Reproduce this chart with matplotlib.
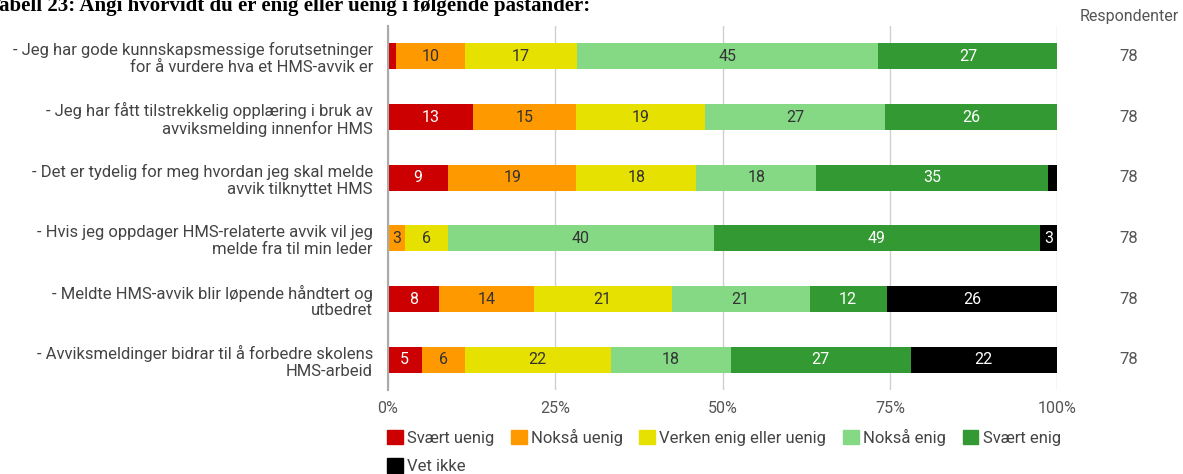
import numpy as np
import matplotlib.pyplot as plt
from matplotlib.patches import Patch

plt.rcParams['font.family'] = ['Roboto', 'DejaVu Sans']

questions = [
    '- Jeg har gode kunnskapsmessige forutsetninger\nfor å vurdere hva et HMS-avvik er',
    '- Jeg har fått tilstrekkelig opplæring i bruk av\navviksmelding innenfor HMS',
    '- Det er tydelig for meg hvordan jeg skal melde\navvik tilknyttet HMS',
    '- Hvis jeg oppdager HMS-relaterte avvik vil jeg\nmelde fra til min leder',
    '- Meldte HMS-avvik blir løpende håndtert og\nutbedret',
    '- Avviksmeldinger bidrar til å forbedre skolens\nHMS-arbeid',
]
categories = ['Svært uenig', 'Nokså uenig', 'Verken enig eller uenig',
              'Nokså enig', 'Svært enig', 'Vet ikke']
colors = ['#cc0000', '#ff9900', '#e6e100', '#85d985', '#339933', '#000000']
text_colors = ['white', '#333333', '#333333', '#333333', 'white', 'white']

# percent of respondents per answer (rows = questions)
svaert_uenig = [1.3, 12.8, 9.0, 0.0, 7.7, 5.1]
noksa_uenig = [10.3, 15.4, 19.2, 2.6, 14.1, 6.4]
verken = [16.7, 19.2, 17.9, 6.4, 20.6, 21.8]
noksa_enig = [44.9, 26.9, 17.9, 39.7, 20.6, 17.9]
svaert_enig = [26.9, 25.6, 34.6, 48.7, 11.5, 26.9]
vet_ikke = [0.0, 0.0, 1.3, 2.6, 25.5, 21.8]
respondenter = [78, 78, 78, 78, 78, 78]

series = [svaert_uenig, noksa_uenig, verken, noksa_enig, svaert_enig, vet_ikke]

fig = plt.figure(figsize=(11.83, 4.74), dpi=100)
ax = fig.add_axes([0.3276, 0.1772, 0.5663, 0.7677])

y = np.arange(len(questions))
left = np.zeros(len(questions))
for vals, col, tcol in zip(series, colors, text_colors):
    vals = np.array(vals)
    ax.barh(y, vals, left=left, height=0.43, color=col, zorder=3)
    for yi, (l, v) in enumerate(zip(left, vals)):
        if v >= 2:
            ax.text(l + v / 2, yi, f'{v:.0f}', ha='center', va='center',
                    color=tcol, fontsize=11.5, zorder=4)
    left += vals

ax.set_xlim(0, 100)
ax.set_ylim(5.5, -0.5)
ax.set_yticks(y)
ax.set_yticklabels(questions, fontsize=12, color='#444444', linespacing=1.15)
ax.set_xticks([0, 25, 50, 75, 100])
ax.set_xticklabels(['0%', '25%', '50%', '75%', '100%'], fontsize=11.5, color='#555555')
ax.tick_params(axis='y', length=0, pad=10.5)
ax.tick_params(axis='x', length=0, pad=8)
ax.grid(axis='x', color='#d0d0d0', linewidth=1, zorder=0)
for s in ['top', 'right', 'bottom']:
    ax.spines[s].set_visible(False)
ax.spines['left'].set_color('#aaaaaa')
ax.spines['left'].set_linewidth(1.5)
ax.spines['left'].set_zorder(5)

# respondent column
ax.text(1.107, 1.005, 'Respondenter', transform=ax.transAxes, ha='center',
        va='bottom', fontsize=11.5, color='#555555')
for yi, n in enumerate(respondenter):
    ax.annotate(str(n), xy=(1.107, yi), xycoords=('axes fraction', 'data'),
                ha='center', va='center', fontsize=12, color='#555555')

handles = [Patch(facecolor=c, edgecolor=c) for c in colors]
leg_kw = dict(loc='upper left', frameon=False, fontsize=12, handlelength=0.95,
              handleheight=0.95, handletextpad=0.25, columnspacing=1.0,
              borderaxespad=0, borderpad=0, labelcolor='#444444')
fig.legend(handles[:5], categories[:5], bbox_to_anchor=(0.327, 0.095), ncol=5,
           **leg_kw)
fig.legend(handles[5:], categories[5:], bbox_to_anchor=(0.327, 0.033), **leg_kw)

fig.text(-13 / 1183, 1 - 11 / 474,
         'Tabell 23: Angi hvorvidt du er enig eller uenig i følgende påstander:',
         family='Liberation Serif', fontweight='bold', fontsize=15,
         va='baseline', ha='left')

fig.savefig('out.png', dpi=100)
